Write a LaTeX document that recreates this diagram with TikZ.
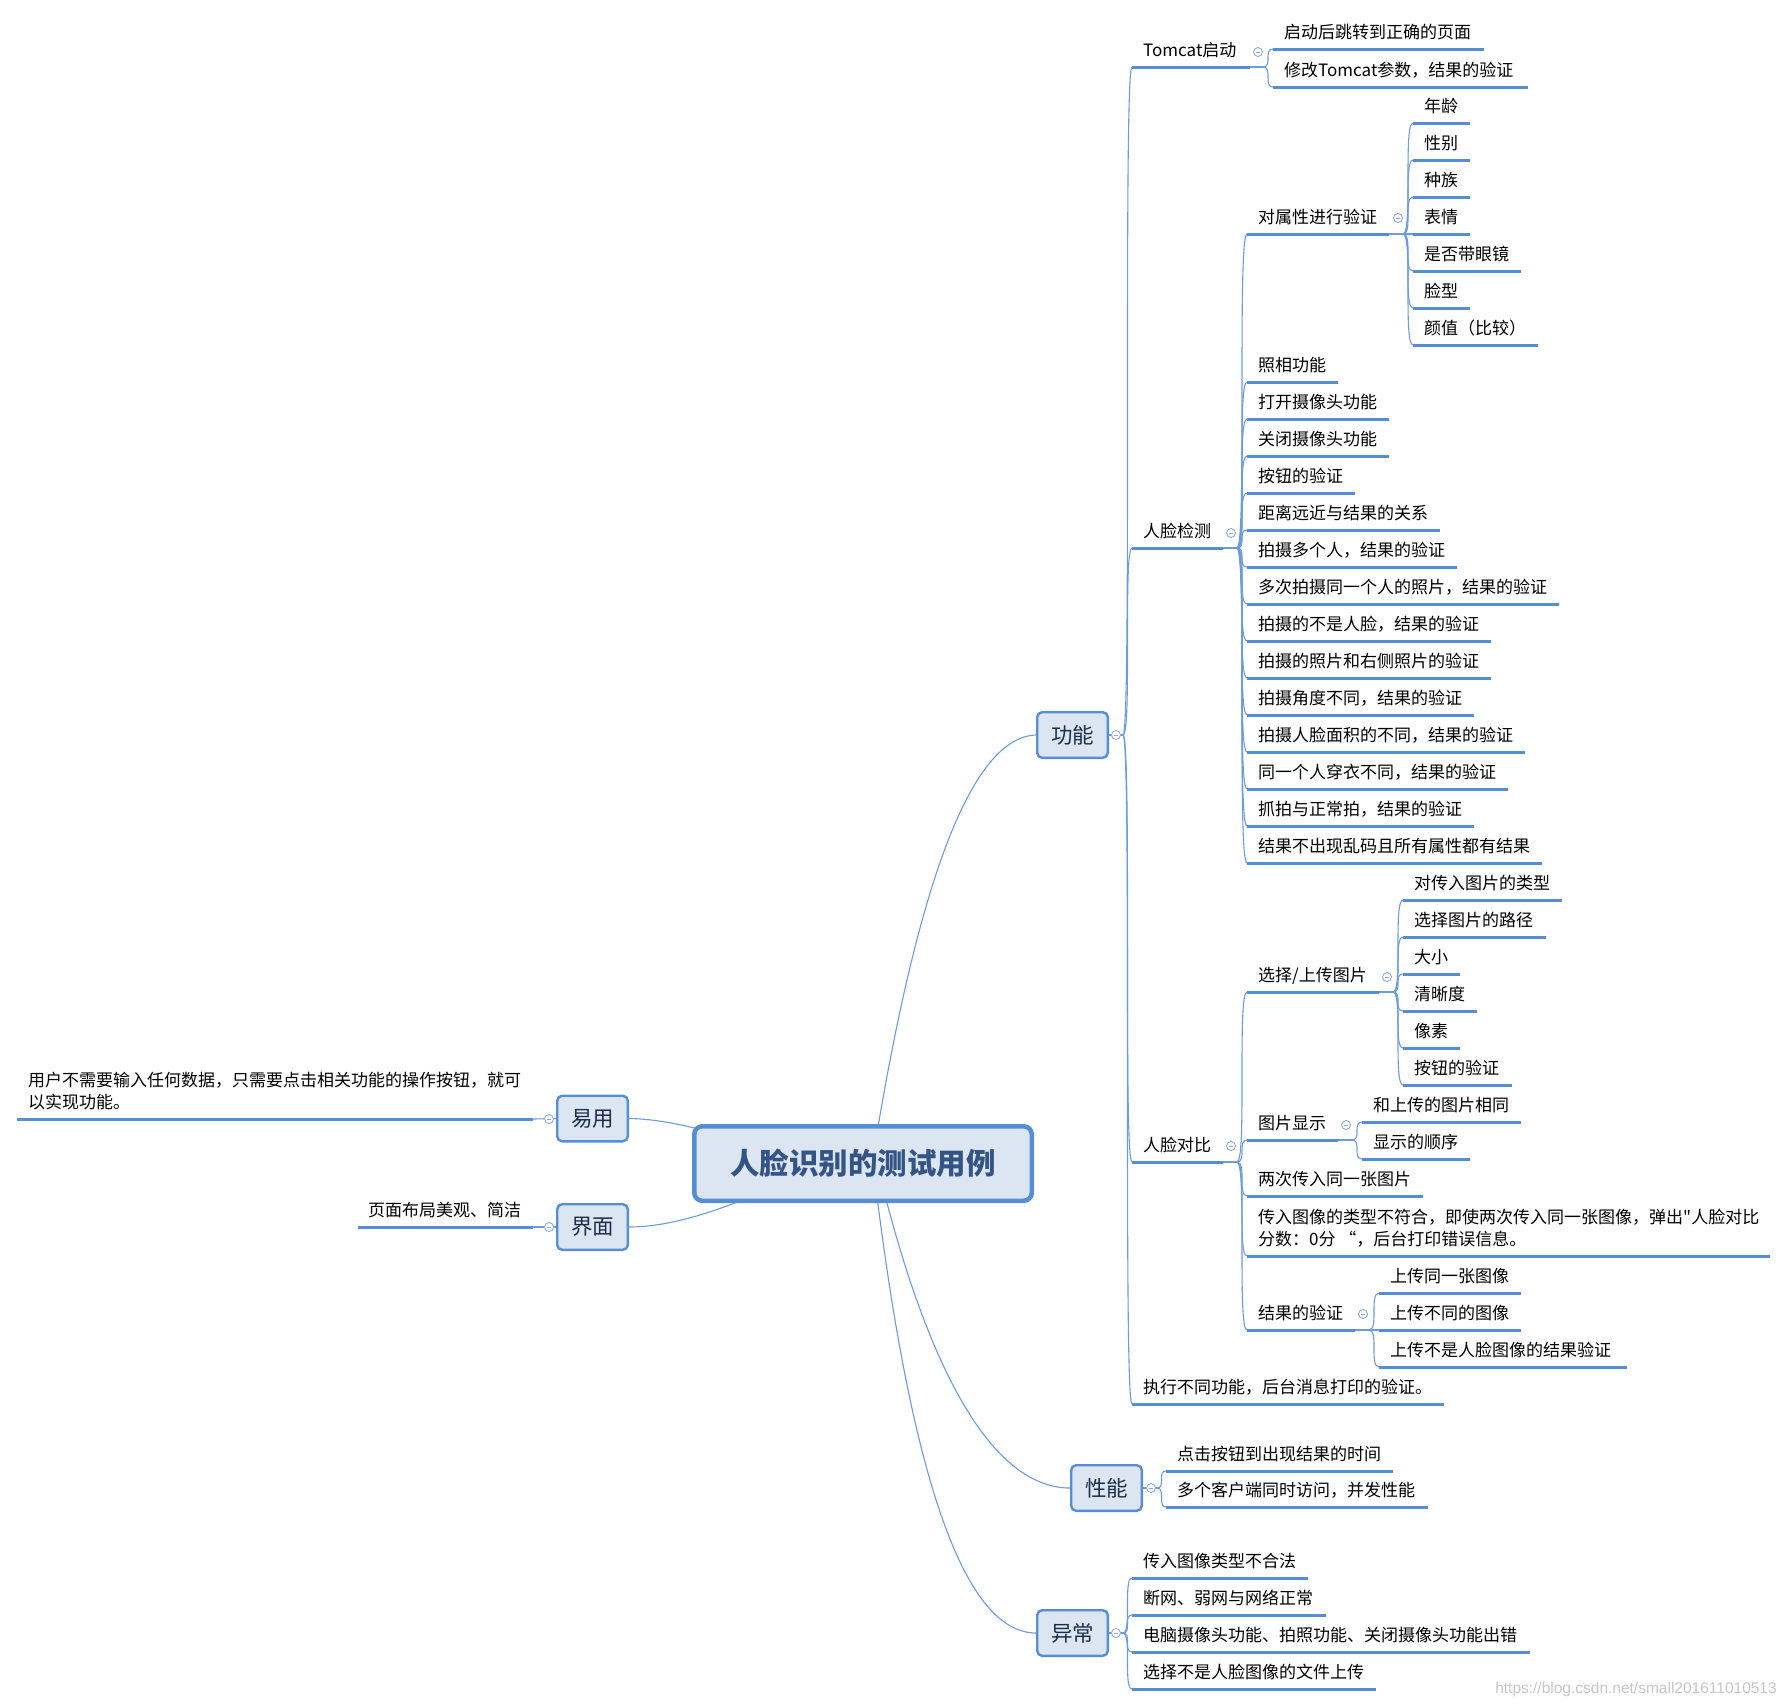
\documentclass[tikz,border=0pt]{standalone}
\usepackage{fontspec}
\setmainfont{Noto Sans CJK SC}
\newfontfamily\plainq{Noto Sans CJK SC}[Ligatures=TeXOff]
\newfontfamily\wmfont{Liberation Sans}
\usetikzlibrary{calc,backgrounds}
\definecolor{mmblue}{RGB}{85,142,213}
\definecolor{mmconn}{RGB}{110,155,218}
\definecolor{mmfill}{RGB}{220,230,242}
\definecolor{mmtext}{RGB}{28,45,75}
\definecolor{mmroot}{RGB}{52,84,133}
\definecolor{mmcirc}{RGB}{140,172,220}
\newcommand\mmleaf[6]{%
  \coordinate (#1s) at (#3,#5);
  \coordinate (#1e) at (#4,#5);
  \draw[conn] (#2) .. controls (#2 -| #1s) and (#1s -| #2) .. (#1s);
  \draw[uline] (#1s) -- (#1e);
  \node[leaf] (#1) at ([shift={(11pt,10.5pt)}]#1s) {#6};
}
\newcommand\mmjunc[2]{% name of parent leaf, junction x
  \coordinate (#1J) at (#2,0 |- #1e);
  \draw[conn] (#1e) -- (#1J);
}
\begin{document}
\begin{tikzpicture}[x=1pt,y=-1pt,
  conn/.style={draw=mmconn,line width=1.1pt},
  uline/.style={draw=mmblue,line width=3pt},
  leaf/.style={anchor=base west,inner sep=0pt,font=\fontsize{17}{22}\selectfont,text=black},
  mainbox/.style={draw=mmblue,line width=2.4pt,fill=mmfill,rounded corners=5pt,minimum width=70.6pt,minimum height=45.6pt,inner sep=0pt,font=\fontsize{21.5}{24}\selectfont,text=mmtext},
  rootbox/.style={draw=mmblue,line width=4.5pt,fill=mmfill,rounded corners=8pt,minimum width=337.5pt,minimum height=74.5pt,inner sep=0pt,font=\fontsize{29.5}{32}\selectfont\bfseries,text=mmroot},
  collapse/.style={circle,draw=mmcirc,line width=0.9pt,fill=white,minimum size=9pt,inner sep=0pt,path picture={\draw[mmcirc,line width=0.8pt] ([xshift=-2.4pt]path picture bounding box.center) -- ([xshift=2.4pt]path picture bounding box.center);}},
]
\useasboundingbox (0,0) rectangle (1788,1706);
\begin{scope}[on background layer]
\fill[white] (0,0) rectangle (1788,1706);
\end{scope}

% ---------- main nodes ----------
\node[rootbox] (root) at (863,1163.5) {人脸识别的测试用例};
\node[mainbox] (gn) at (1072.5,735) {功能};
\node[mainbox] (xn) at (1106.5,1488) {性能};
\node[mainbox] (yc) at (1072.5,1633) {异常};
\node[mainbox] (yy) at (592.5,1118.5) {易用};
\node[mainbox] (jm) at (592.5,1227) {界面};

\begin{scope}[on background layer]
\draw[conn] ([xshift=9pt]root.center) .. controls (917.3,879) and (972,737) .. (gn.west);
\draw[conn] ([xshift=14pt]root.center) .. controls (932,1392) and (1000,1488) .. (xn.west);
\draw[conn] ([xshift=10pt]root.center) .. controls (909.7,1476.3) and (964,1633) .. (yc.west);
\draw[conn] (yy.east) .. controls (669.7,1119) and (726.7,1133.7) .. ([xshift=-63pt]root.center);
\draw[conn] (jm.east) .. controls (676.3,1227) and (740,1205.7) .. ([xshift=-43pt]root.center);
\end{scope}

% ---------- 功能 ----------
\coordinate (gnJ) at (1123,735);
\draw[conn] (gn.east) -- (gnJ);

\mmleaf{tc}{gnJ}{1132}{1250}{67}{Tomcat启动}
\mmjunc{tc}{1263}
\mmleaf{tca}{tcJ}{1273}{1484}{49}{启动后跳转到正确的页面}
\mmleaf{tcb}{tcJ}{1273}{1528}{87}{修改Tomcat参数，结果的验证}

\mmleaf{rj}{gnJ}{1132}{1223}{548}{人脸检测}
\mmjunc{rj}{1237}
\mmleaf{sx}{rjJ}{1247}{1389}{234}{对属性进行验证}
\mmjunc{sx}{1403}
\mmleaf{sxa}{sxJ}{1413}{1470}{123}{年龄}
\mmleaf{sxb}{sxJ}{1413}{1470}{160}{性别}
\mmleaf{sxc}{sxJ}{1413}{1470}{197}{种族}
\mmleaf{sxd}{sxJ}{1413}{1470}{234}{表情}
\mmleaf{sxf}{sxJ}{1413}{1521}{271}{是否带眼镜}
\mmleaf{sxg}{sxJ}{1413}{1470}{308}{脸型}
\mmleaf{sxh}{sxJ}{1413}{1538}{345}{颜值（比较）}
\mmleaf{rja}{rjJ}{1247}{1338}{382}{照相功能}
\mmleaf{rjb}{rjJ}{1247}{1389}{419}{打开摄像头功能}
\mmleaf{rjc}{rjJ}{1247}{1389}{456}{关闭摄像头功能}
\mmleaf{rjd}{rjJ}{1247}{1355}{493}{按钮的验证}
\mmleaf{rjf}{rjJ}{1247}{1440}{530}{距离远近与结果的关系}
\mmleaf{rjg}{rjJ}{1247}{1457}{567}{拍摄多个人，结果的验证}
\mmleaf{rjh}{rjJ}{1247}{1559}{604}{多次拍摄同一个人的照片，结果的验证}
\mmleaf{rji}{rjJ}{1247}{1491}{641}{拍摄的不是人脸，结果的验证}
\mmleaf{rjk}{rjJ}{1247}{1491}{678}{拍摄的照片和右侧照片的验证}
\mmleaf{rjl}{rjJ}{1247}{1474}{715}{拍摄角度不同，结果的验证}
\mmleaf{rjm}{rjJ}{1247}{1525}{752}{拍摄人脸面积的不同，结果的验证}
\mmleaf{rjn}{rjJ}{1247}{1508}{789}{同一个人穿衣不同，结果的验证}
\mmleaf{rjo}{rjJ}{1247}{1474}{826}{抓拍与正常拍，结果的验证}
\mmleaf{rjp}{rjJ}{1247}{1542}{863}{结果不出现乱码且所有属性都有结果}

\mmleaf{rb}{gnJ}{1132}{1223}{1162}{人脸对比}
\mmjunc{rb}{1237}
\mmleaf{xz}{rbJ}{1247}{1379}{992}{选择/上传图片}
\mmjunc{xz}{1393}
\mmleaf{xza}{xzJ}{1403}{1562}{900}{对传入图片的类型}
\mmleaf{xzb}{xzJ}{1403}{1546}{937}{选择图片的路径}
\mmleaf{xzc}{xzJ}{1403}{1460}{974}{大小}
\mmleaf{xzd}{xzJ}{1403}{1477}{1011}{清晰度}
\mmleaf{xzf}{xzJ}{1403}{1460}{1048}{像素}
\mmleaf{xzg}{xzJ}{1403}{1512}{1085}{按钮的验证}
\mmleaf{tp}{rbJ}{1247}{1338}{1140}{图片显示}
\mmjunc{tp}{1352}
\mmleaf{tpa}{tpJ}{1362}{1521}{1122}{和上传的图片相同}
\mmleaf{tpb}{tpJ}{1362}{1470}{1159}{显示的顺序}
\mmleaf{lc}{rbJ}{1247}{1423}{1196}{两次传入同一张图片}
% two-line item
\coordinate (crs) at (1247,1256);
\coordinate (cre) at (1770,1256);
\draw[conn] (rbJ) .. controls (rbJ -| crs) and (crs -| rbJ) .. (crs);
\draw[uline] (crs) -- (cre);
\node[leaf,anchor=south west,align=left] (cr) at ([shift={(11pt,9pt)}]crs) {传入图像的类型不符合，即使两次传入同一张图像，弹出{\plainq"}人脸对比\\分数：0分 “，后台打印错误信息。};
\mmleaf{jg}{rbJ}{1247}{1355}{1330}{结果的验证}
\mmjunc{jg}{1369}
\mmleaf{jga}{jgJ}{1379}{1521}{1293}{上传同一张图像}
\mmleaf{jgb}{jgJ}{1379}{1521}{1330}{上传不同的图像}
\mmleaf{jgc}{jgJ}{1379}{1627}{1367}{上传不是人脸图像的结果验证}

\mmleaf{zx}{gnJ}{1132}{1444}{1404}{执行不同功能，后台消息打印的验证。}

% ---------- 性能 ----------
\coordinate (xnJ) at (1157,1488);
\draw[conn] (xn.east) -- (xnJ);
\mmleaf{xna}{xnJ}{1166}{1393}{1471}{点击按钮到出现结果的时间}
\mmleaf{xnb}{xnJ}{1166}{1428}{1507}{多个客户端同时访问，并发性能}

% ---------- 异常 ----------
\coordinate (ycJ) at (1123,1633);
\draw[conn] (yc.east) -- (ycJ);
\mmleaf{yca}{ycJ}{1132}{1308}{1578}{传入图像类型不合法}
\mmleaf{ycb}{ycJ}{1132}{1326}{1615}{断网、弱网与网络正常}
\mmleaf{ycc}{ycJ}{1132}{1530}{1652}{电脑摄像头功能、拍照功能、关闭摄像头功能出错}
\mmleaf{ycd}{ycJ}{1132}{1376}{1689}{选择不是人脸图像的文件上传}

% ---------- 易用 / 界面 ----------
\coordinate (yyas) at (17,1119);
\coordinate (yyae) at (533,1119);
\draw[conn] (yy.west) -- (yyae);
\draw[uline] (yyas) -- (yyae);
\node[leaf,anchor=south west,align=left] (yya) at ([shift={(11pt,9pt)}]yyas) {用户不需要输入任何数据，只需要点击相关功能的操作按钮，就可\\以实现功能。};
\coordinate (jmas) at (358,1227);
\coordinate (jmae) at (533,1227);
\draw[conn] (jm.west) -- (jmae);
\draw[uline] (jmas) -- (jmae);
\node[leaf] (jma) at ([shift={(10pt,10.5pt)}]jmas) {页面布局美观、简洁};

% ---------- collapse markers ----------
\node[collapse] (c1) at (1116,735) {};
\node[collapse] (c2) at (1258,52) {};
\node[collapse] (c3) at (1231,533) {};
\node[collapse] (c4) at (1398,218) {};
\node[collapse] (c5) at (1231,1146) {};
\node[collapse] (c6) at (1387,977) {};
\node[collapse] (c7) at (1346,1125) {};
\node[collapse] (c8) at (1363,1314) {};
\node[collapse] (c9) at (1151,1488) {};
\node[collapse] (c10) at (1116,1633) {};
\node[collapse] (c11) at (549,1119) {};
\node[collapse] (c12) at (549,1227) {};

% watermark
\node[text=black!22,font=\wmfont\fontsize{15.5}{18}\selectfont,inner sep=0pt] (wm) at (1636,1689) {https://blog.csdn.net/small201611010513};
\end{tikzpicture}
\end{document}
